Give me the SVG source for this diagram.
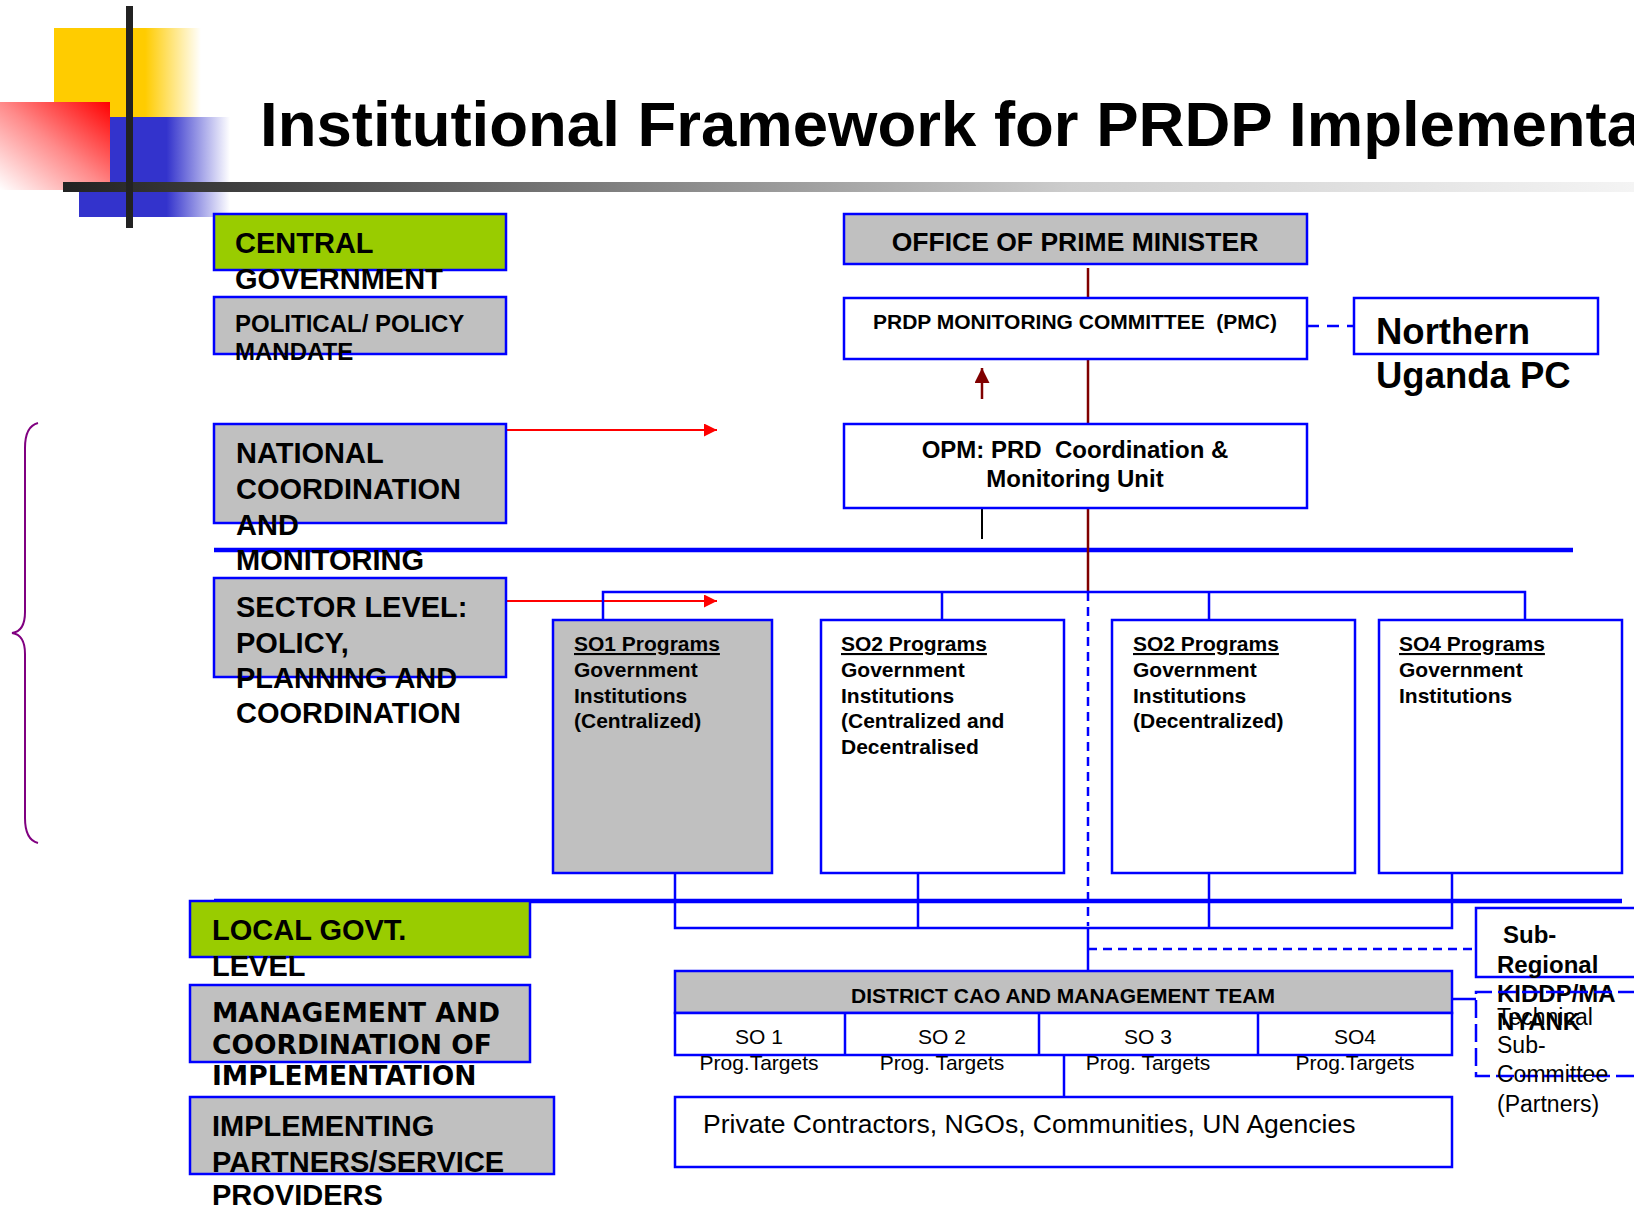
<svg xmlns="http://www.w3.org/2000/svg" width="1634" height="1208" viewBox="0 0 1634 1208">
<style>
.box{stroke:#0000FF;stroke-width:2.5}
.g{fill:#C0C0C0}
.w{fill:#FFFFFF}
.gr{fill:#99CC00}
.ln{fill:none;stroke:#0000FF;stroke-width:2.5}
.thick{fill:none;stroke:#0000FF;stroke-width:4.5}
.dr{fill:none;stroke:#800000;stroke-width:2.5}
.dash{fill:none;stroke:#0000FF;stroke-width:2.5;stroke-dasharray:9 6}
.dashL{fill:none;stroke:#0000FF;stroke-width:2.5;stroke-dasharray:18 6}
.t{font-family:"Liberation Sans",Arial,sans-serif;fill:#000}
.b{font-weight:bold}
.v{font-family:"DejaVu Sans",Verdana,sans-serif;font-weight:bold;fill:#000}
.mid{text-anchor:middle}
</style>
<defs>
<linearGradient id="gY" x1="0" y1="0" x2="1" y2="0"><stop offset="0" stop-color="#FFCC00"/><stop offset="0.62" stop-color="#FFCC00"/><stop offset="1" stop-color="#FFCC00" stop-opacity="0"/></linearGradient>
<linearGradient id="gB" x1="0" y1="0" x2="1" y2="0"><stop offset="0" stop-color="#3333CC"/><stop offset="0.58" stop-color="#3333CC"/><stop offset="1" stop-color="#3333CC" stop-opacity="0"/></linearGradient>
<linearGradient id="gR" x1="1" y1="0" x2="0" y2="1"><stop offset="0" stop-color="#FF0000"/><stop offset="0.5" stop-color="#FF8A8A"/><stop offset="1" stop-color="#FFFFFF"/></linearGradient>
<linearGradient id="gBar" x1="0" y1="0" x2="1" y2="0"><stop offset="0" stop-color="#222222"/><stop offset="0.32" stop-color="#777777"/><stop offset="0.64" stop-color="#CCCCCC"/><stop offset="1" stop-color="#F4F4F4"/></linearGradient>
<marker id="aR" viewBox="0 0 10 10" refX="10" refY="5" markerWidth="15" markerHeight="13" markerUnits="userSpaceOnUse" orient="auto"><path d="M0,0 L10,5 L0,10 z" fill="#FF0000"/></marker>
<marker id="aD" viewBox="0 0 10 10" refX="10" refY="5" markerWidth="15" markerHeight="15" markerUnits="userSpaceOnUse" orient="auto"><path d="M0,0 L10,5 L0,10 z" fill="#800000"/></marker>
</defs>

<g id="decoration">
<rect x="54" y="28" width="147" height="89" fill="url(#gY)"/>
<rect x="79" y="117" width="151" height="100" fill="url(#gB)"/>
<rect x="0" y="102" width="110" height="88" fill="url(#gR)"/>
<rect x="63" y="182" width="1571" height="10" fill="url(#gBar)"/>
<rect x="126" y="6" width="7" height="222" fill="#222222"/>
</g>

<text id="title" class="t b" x="260" y="146" font-size="63.5">Institutional Framework for PRDP Implementa</text>

<path id="brace" d="M38,423 C30,425 25,432 25,448 L25,612 C25,626 20,632 12,633 C20,634 25,640 25,654 L25,818 C25,834 30,841 38,843" fill="none" stroke="#800080" stroke-width="2"/>

<g id="connectors">
<line class="thick" x1="214" y1="550" x2="1573" y2="550"/>
<line class="thick" x1="214" y1="901" x2="1622" y2="901"/>
<line x1="506" y1="430" x2="717" y2="430" stroke="#FF0000" stroke-width="2" marker-end="url(#aR)"/>
<line x1="506" y1="601" x2="717" y2="601" stroke="#FF0000" stroke-width="2" marker-end="url(#aR)"/>
<line class="dr" x1="1088" y1="268" x2="1088" y2="298"/>
<line class="dr" x1="1088" y1="354" x2="1088" y2="424"/>
<line class="dr" x1="1088" y1="508" x2="1088" y2="592"/>
<line class="dr" x1="982" y1="399" x2="982" y2="368" marker-end="url(#aD)"/>
<line x1="982" y1="508" x2="982" y2="539" stroke="#000" stroke-width="2"/>
<line x1="1307" y1="326" x2="1354" y2="326" fill="none" stroke="#0000FF" stroke-width="2.5" stroke-dasharray="12 8"/>
<path class="ln" d="M603,620 V592 H1525 V620 M942,592 V620 M1209,592 V620"/>
<path class="ln" d="M675,873 V928 H1452 V873 M918,873 V928 M1209,873 V928"/>
<line class="dash" x1="1088" y1="592" x2="1088" y2="926"/>
<line class="ln" x1="1088" y1="928" x2="1088" y2="971"/>
<line class="dash" x1="1088" y1="949" x2="1476" y2="949"/>
<line class="ln" x1="1452" y1="999" x2="1476" y2="999"/>
<line class="ln" x1="1064" y1="1055" x2="1064" y2="1097"/>
</g>

<g id="central-government">
<rect class="box gr" x="214" y="214" width="292" height="56"/>
<text class="t b" font-size="29" x="235" y="253">CENTRAL</text>
<text class="t b" font-size="29" x="235" y="289">GOVERNMENT</text>
</g>
<g id="political-mandate">
<rect class="box g" x="214" y="297" width="292" height="57"/>
<text class="t b" font-size="24" x="235" y="332">POLITICAL/ POLICY</text>
<text class="t b" font-size="24" x="235" y="360">MANDATE</text>
</g>
<g id="national-coordination">
<rect class="box g" x="214" y="424" width="292" height="99"/>
<text class="t b" font-size="29" x="236" y="463">NATIONAL</text>
<text class="t b" font-size="29" x="236" y="499">COORDINATION</text>
<text class="t b" font-size="29" x="236" y="535">AND</text>
<text class="t b" font-size="29" x="236" y="570">MONITORING</text>
</g>
<g id="sector-level">
<rect class="box g" x="214" y="578" width="292" height="99"/>
<text class="t b" font-size="29" x="236" y="617">SECTOR LEVEL:</text>
<text class="t b" font-size="29" x="236" y="653">POLICY,</text>
<text class="t b" font-size="29" x="236" y="688">PLANNING AND</text>
<text class="t b" font-size="29" x="236" y="723">COORDINATION</text>
</g>

<g id="office-prime-minister">
<rect class="box g" x="844" y="214" width="463" height="50"/>
<text class="t b mid" font-size="26.5" x="1075" y="251">OFFICE OF PRIME MINISTER</text>
</g>
<g id="pmc">
<rect class="box w" x="844" y="298" width="463" height="61"/>
<text class="t b mid" font-size="21" x="1075" y="329" xml:space="preserve">PRDP MONITORING COMMITTEE  (PMC)</text>
</g>
<g id="northern-uganda-pc">
<rect class="box w" x="1354" y="298" width="244" height="56"/>
<text class="t b" font-size="36.5" x="1376" y="344">Northern</text>
<text class="t b" font-size="36.5" x="1376" y="388">Uganda PC</text>
</g>
<g id="opm-prd-unit">
<rect class="box w" x="844" y="424" width="463" height="84"/>
<text class="t b mid" font-size="24" x="1075" y="458" xml:space="preserve">OPM: PRD  Coordination &amp;</text>
<text class="t b mid" font-size="24" x="1075" y="487">Monitoring Unit</text>
</g>

<g id="so1">
<rect class="box g" x="553" y="620" width="219" height="253"/>
<text class="t b" font-size="21" x="574" y="651" text-decoration="underline">SO1 Programs</text>
<text class="t b" font-size="21" x="574" y="677">Government</text>
<text class="t b" font-size="21" x="574" y="703">Institutions</text>
<text class="t b" font-size="21" x="574" y="728">(Centralized)</text>
</g>
<g id="so2-central">
<rect class="box w" x="821" y="620" width="243" height="253"/>
<text class="t b" font-size="21" x="841" y="651" text-decoration="underline">SO2 Programs</text>
<text class="t b" font-size="21" x="841" y="677">Government</text>
<text class="t b" font-size="21" x="841" y="703">Institutions</text>
<text class="t b" font-size="21" x="841" y="728">(Centralized and</text>
<text class="t b" font-size="21" x="841" y="754">Decentralised</text>
</g>
<g id="so2-decentral">
<rect class="box w" x="1112" y="620" width="243" height="253"/>
<text class="t b" font-size="21" x="1133" y="651" text-decoration="underline">SO2 Programs</text>
<text class="t b" font-size="21" x="1133" y="677">Government</text>
<text class="t b" font-size="21" x="1133" y="703">Institutions</text>
<text class="t b" font-size="21" x="1133" y="728">(Decentralized)</text>
</g>
<g id="so4">
<rect class="box w" x="1379" y="620" width="243" height="253"/>
<text class="t b" font-size="21" x="1399" y="651" text-decoration="underline">SO4 Programs</text>
<text class="t b" font-size="21" x="1399" y="677">Government</text>
<text class="t b" font-size="21" x="1399" y="703">Institutions</text>
</g>

<g id="local-govt">
<rect class="box gr" x="190" y="901" width="340" height="56"/>
<text class="t b" font-size="29" x="212" y="940">LOCAL GOVT.</text>
<text class="t b" font-size="29" x="212" y="976">LEVEL</text>
</g>
<g id="management-coordination">
<rect class="box g" x="190" y="985" width="340" height="77"/>
<text class="v" font-size="26.5" x="212" y="1022">MANAGEMENT AND</text>
<text class="v" font-size="26.5" x="212" y="1054">COORDINATION OF</text>
<text class="v" font-size="26.5" x="212" y="1085">IMPLEMENTATION</text>
</g>
<g id="implementing-partners">
<rect class="box g" x="190" y="1097" width="364" height="77"/>
<text class="t b" font-size="29" x="212" y="1136">IMPLEMENTING</text>
<text class="t b" font-size="29" x="212" y="1172">PARTNERS/SERVICE</text>
<text class="t b" font-size="29" x="212" y="1205">PROVIDERS</text>
</g>

<g id="district-cao">
<rect class="box g" x="675" y="971" width="777" height="42"/>
<text class="t b mid" font-size="21" x="1063" y="1003">DISTRICT CAO AND MANAGEMENT TEAM</text>
<rect class="box w" x="675" y="1013" width="777" height="42"/>
<path class="ln" d="M845,1013 V1055 M1039,1013 V1055 M1258,1013 V1055"/>
<text class="t mid" font-size="21" x="759" y="1044">SO 1</text>
<text class="t mid" font-size="21" x="942" y="1044">SO 2</text>
<text class="t mid" font-size="21" x="1148" y="1044">SO 3</text>
<text class="t mid" font-size="21" x="1355" y="1044">SO4</text>
<text class="t mid" font-size="21" x="759" y="1070">Prog.Targets</text>
<text class="t mid" font-size="21" x="942" y="1070">Prog. Targets</text>
<text class="t mid" font-size="21" x="1148" y="1070">Prog. Targets</text>
<text class="t mid" font-size="21" x="1355" y="1070">Prog.Targets</text>
</g>
<g id="private-contractors">
<rect class="box w" x="675" y="1097" width="777" height="70"/>
<text class="t" font-size="26.5" x="703" y="1133">Private Contractors, NGOs, Communities, UN Agencies</text>
</g>

<g id="sub-regional">
<path class="box w" d="M1636,908 H1476 V977 H1636"/>
<text class="t b" font-size="24" x="1503" y="943">Sub-</text>
<text class="t b" font-size="24" x="1497" y="973">Regional</text>
<text class="t b" font-size="24" x="1497" y="1002">KIDDP/MA</text>
<text class="t b" font-size="24" x="1497" y="1030">NYANK</text>
</g>
<g id="technical-subcommittee">
<path class="dashL" d="M1636,992 H1476 V1076 H1636"/>
<text class="t" font-size="23" x="1497" y="1025">Technical</text>
<text class="t" font-size="23" x="1497" y="1053">Sub-</text>
<text class="t" font-size="23" x="1497" y="1082">Committee</text>
<text class="t" font-size="23" x="1497" y="1112">(Partners)</text>
</g>
</svg>
